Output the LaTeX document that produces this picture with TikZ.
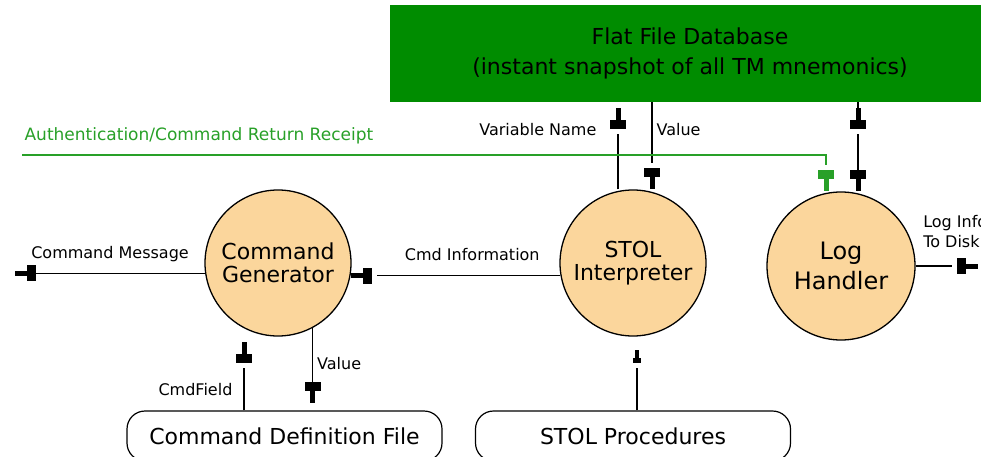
\documentclass[tikz,border=0pt]{standalone}
\usepackage{fontspec}
\setmainfont{DejaVu Sans}
\usetikzlibrary{arrows.meta,positioning}
\definecolor{dbgreen}{RGB}{0,140,0}
\definecolor{authgreen}{RGB}{40,160,40}
\definecolor{bubblefill}{RGB}{251,214,156}
\begin{document}
\begin{tikzpicture}
	[
		x=1pt, y=-1pt,
		plug/.tip={Rectangle[length=9pt,width=16pt] Rectangle[length=12pt,width=5pt]},
		gapplug/.tip={Rectangle[length=5pt,width=.1pt,color=white] Rectangle[length=9pt,width=16pt] Rectangle[length=12pt,width=5pt]},
		smallplug/.tip={Rectangle[length=5pt,width=.1pt,color=white] Rectangle[length=5pt,width=8pt] Rectangle[length=8pt,width=3.5pt]},
		bubble/.style={
			circle, draw, fill=bubblefill, line width=1.3pt,
			minimum size=146pt, inner sep=0pt, align=center,
			font=\fontsize{22}{23}\selectfont
		},
		store/.style={
			rectangle, draw, rounded corners=18pt, line width=1.2pt,
			minimum width=315pt, minimum height=50pt,
			font=\fontsize{22}{26}\selectfont
		},
		database/.style={
			rectangle, fill=dbgreen, minimum width=600pt, minimum height=97pt,
			align=center, font=\fontsize{22}{30}\selectfont
		},
		lbl/.style={inner sep=2pt, font=\fontsize{16}{20}\selectfont},
		flow/.style={draw, line width=1.2pt, -{gapplug}},
		flow tight/.style={draw, line width=1.2pt, -{plug}},
		flow small/.style={draw, line width=1.2pt, -{smallplug}},
		authflow/.style={draw=authgreen, line width=1.2pt, -{gapplug}}
	]
	\useasboundingbox (0,0) rectangle (981,457);

	\node[database] (flatdb) at (690,53.5) {Flat File Database\\(instant snapshot of all TM mnemonics)};
	\node[bubble] (gen) at (278,263) {Command\\Generator};
	\node[bubble] (interp) at (633,263) {STOL\\Interpreter};
	\node[bubble, minimum size=148pt, font=\fontsize{24}{30}\selectfont] (loghdl) at (841,266) {Log\\Handler};
	\node[store] (cmddef) at (284.5,436) {Command Definition File};
	\node[store] (stolproc) at (633,436) {STOL Procedures};

	\coordinate (msgout) at (15,273);
	\coordinate (auth) at (22,155);
	\coordinate (varname) at (618,108);
	\coordinate (dbvalue) at (652,0);
	\coordinate (receipt) at (826,0);
	\coordinate (logdb) at (858,0);
	\coordinate (disk) at (978,0);
	\coordinate (cmdfield) at (244,342);
	\coordinate (procin) at (637,350);

	\draw[flow tight] (gen.188) -- node[lbl, above=9pt] {Command Message} (gen.188 -| msgout);
	\draw[flow] (interp.190) -- node[lbl, above=12pt, pos=.42] {Cmd Information} (gen.350);
	\draw[flow] (interp.north -| varname) -- node[lbl, left=19pt, pos=.74] {Variable Name} (varname);
	\draw[flow] (flatdb.south -| dbvalue) -- node[lbl, right=2pt, pos=.31] {Value} (interp.north -| dbvalue);
	\draw[authflow] (auth) -| node[lbl, text=authgreen, font=\fontsize{17}{20}\selectfont, above right=8pt and 0pt, pos=0] {Authentication/Command Return Receipt} (loghdl.north -| receipt);
	\draw[flow] (flatdb.south -| logdb) -- (loghdl.north -| logdb);
	\draw[flow, shorten >=6pt] (loghdl.north -| logdb) -- (flatdb.south -| logdb);
	\draw[flow] (loghdl.east) -- node[lbl, above right=16pt and 5pt, pos=0, align=left] {Log Info\\To Disk} (loghdl.east -| disk);
	\draw[flow] (cmddef.north -| cmdfield) -- node[lbl, left=9pt, pos=.3] {CmdField} (cmdfield);
	\draw[flow tight, shorten >=7pt] (gen.-62) -- node[lbl, right=2pt, pos=.43] {Value} (gen.-62 |- cmddef.north);
	\draw[flow small] (stolproc.north -| procin) -- (procin);
\end{tikzpicture}
\end{document}
